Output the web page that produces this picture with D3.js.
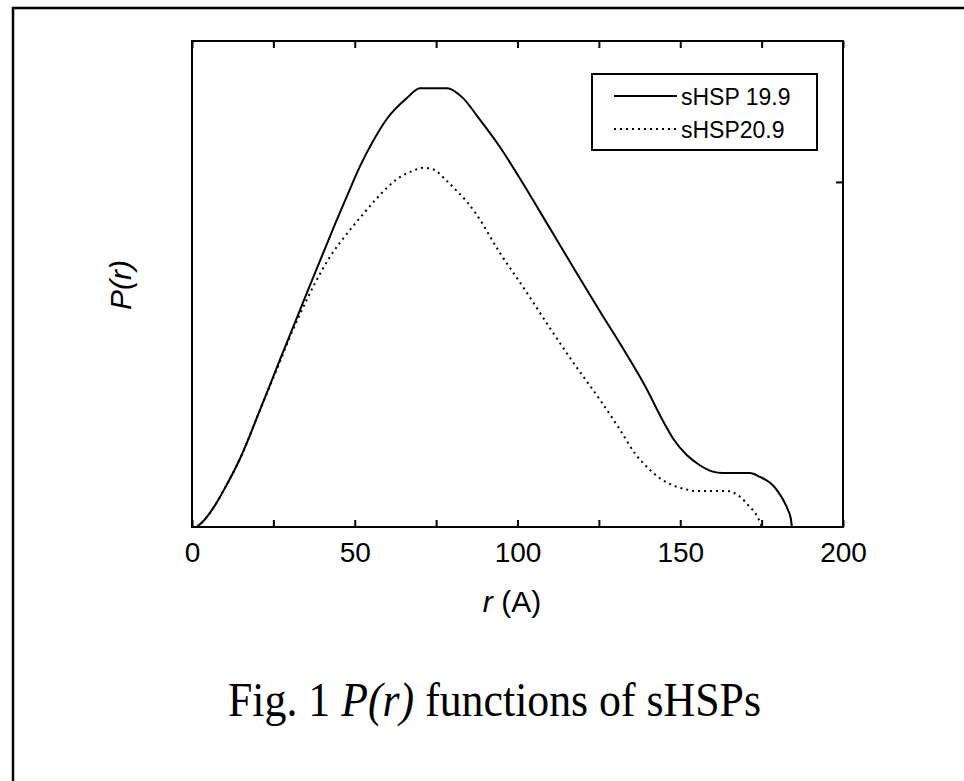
<!DOCTYPE html>
<html>
<head>
<meta charset="utf-8">
<script src="https://cdn.jsdelivr.net/npm/d3@7"></script>
<style>
  html, body { margin: 0; padding: 0; background: #fff; }
  svg { display: block; }
</style>
</head>
<body>
<div id="chart"></div>
<script>
// r values (A), P(r) in relative units (0 = axis, 1 = top of box)
var rSolid = [1.5, 4.0, 7.1, 10.1, 14.7, 20.9, 27.0, 33.2, 37.8, 41.8, 44.0, 47.8, 51.6, 55.3, 59.9, 66.1, 70.0, 78.3, 83.2, 87.8, 94.6, 102.3, 110.0, 117.7, 125.3, 133.0, 139.2, 144.4, 148.0, 152.0, 156.0, 160.0, 163.0, 171.4, 174.5, 177.6, 179.7, 181.6, 183.1, 184.0, 184.3];
var pSolid = [0, 0.016, 0.045, 0.080, 0.140, 0.241, 0.344, 0.447, 0.523, 0.588, 0.624, 0.684, 0.742, 0.790, 0.840, 0.883, 0.903, 0.903, 0.883, 0.844, 0.782, 0.700, 0.614, 0.528, 0.444, 0.361, 0.290, 0.222, 0.180, 0.148, 0.127, 0.114, 0.111, 0.111, 0.103, 0.091, 0.076, 0.056, 0.035, 0.016, 0];

var rDotted = [1.5, 4.0, 7.1, 10.1, 14.7, 20.9, 27.0, 30.0, 33.2, 37.8, 42.4, 47.9, 51.6, 56.2, 60.2, 63.9, 67.9, 71.0, 74.0, 78.3, 82.0, 84.5, 87.3, 94.6, 102.3, 110.0, 117.7, 125.3, 131.5, 136.0, 140.0, 144.0, 148.0, 152.0, 155.0, 164.4, 168.4, 171.4, 173.0, 174.5, 175.1];
var pDotted = [0, 0.016, 0.045, 0.080, 0.140, 0.241, 0.340, 0.390, 0.438, 0.502, 0.556, 0.606, 0.636, 0.672, 0.700, 0.720, 0.733, 0.739, 0.736, 0.712, 0.687, 0.669, 0.644, 0.564, 0.488, 0.409, 0.333, 0.262, 0.200, 0.152, 0.122, 0.099, 0.085, 0.077, 0.074, 0.074, 0.062, 0.041, 0.029, 0.010, 0];

var seriesNames = ['sHSP 19.9', 'sHSP20.9'];
var xTicks = [0, 25, 50, 75, 100, 125, 150, 175, 200];
var xLabels = [0, 50, 100, 150, 200];
var yTicks = [0.71];

var width = 964,
    height = 781,
    box = { left: 192, top: 41, right: 843, bottom: 527 }
;

var svg = d3.select('#chart')
  .append('svg')
    .attr('width', width)
    .attr('height', height)
;

svg.append('rect')
  .attr('width', width)
  .attr('height', height)
  .attr('fill', '#fff');

// outer frame, only left and top edges are in the picture
svg.append('path')
  .attr('d', 'M13,' + height + 'V8H' + width)
  .attr('fill', 'none')
  .attr('stroke', '#000')
  .attr('stroke-width', 2.5);

var x = d3.scaleLinear().domain([0, 200]).range([box.left, box.right]);
var y = d3.scaleLinear().domain([0, 1]).range([box.bottom, box.top]);

function noDomain( g )
{
  g.select('.domain').remove();
  g.selectAll('.tick line').attr('stroke', '#000').attr('stroke-width', 2);
}

// bottom axis with inward ticks
svg.append('g')
  .attr('transform', 'translate(0,' + box.bottom + ')')
  .call(
    d3.axisBottom(x)
      .tickValues(xTicks)
      .tickSizeInner(-7)
      .tickSizeOuter(0)
      .tickPadding(15)
      .tickFormat(function(d)
      {
        return xLabels.indexOf(d) >= 0 ? d : '';
      })
  )
  .call(noDomain)
  .call(function(g)
  {
    g.selectAll('text')
      .attr('fill', '#000')
      .style('font-family', '"Liberation Sans", Arial, sans-serif')
      .style('font-size', '28px');
  });

svg.append('g')
  .attr('transform', 'translate(0,' + box.top + ')')
  .call(d3.axisTop(x).tickValues(xTicks).tickSizeInner(-7).tickSizeOuter(0).tickFormat(''))
  .call(noDomain);

svg.append('g')
  .attr('transform', 'translate(' + box.right + ',0)')
  .call(d3.axisRight(y).tickValues(yTicks).tickSizeInner(-7).tickSizeOuter(0).tickFormat(''))
  .call(noDomain);

// plot box
svg.append('rect')
  .attr('x', box.left)
  .attr('y', box.top)
  .attr('width', box.right - box.left)
  .attr('height', box.bottom - box.top)
  .attr('fill', 'none')
  .attr('stroke', '#000')
  .attr('stroke-width', 2);

// curves
var line = d3.line()
  .x(function(d) { return x(d[0]); })
  .y(function(d) { return y(d[1]); })
  .curve(d3.curveMonotoneX);

svg.append('path')
  .datum(d3.zip(rSolid, pSolid))
  .attr('d', line)
  .attr('fill', 'none')
  .attr('stroke', '#000')
  .attr('stroke-width', 2);

svg.append('path')
  .datum(d3.zip(rDotted, pDotted))
  .attr('d', line)
  .attr('fill', 'none')
  .attr('stroke', '#000')
  .attr('stroke-width', 2)
  .attr('stroke-dasharray', '2,4');

// legend
var legend = svg.append('g');

legend.append('rect')
  .attr('x', 592)
  .attr('y', 74)
  .attr('width', 225)
  .attr('height', 76)
  .attr('fill', '#fff')
  .attr('stroke', '#000')
  .attr('stroke-width', 2);

seriesNames.forEach(function(name, i)
{
  var ly = 96 + i * 33;

  legend.append('line')
    .attr('x1', 614)
    .attr('x2', 677)
    .attr('y1', ly)
    .attr('y2', ly)
    .attr('stroke', '#000')
    .attr('stroke-width', 2)
    .attr('stroke-dasharray', i === 0 ? null : '2,4');

  legend.append('text')
    .attr('x', 681)
    .attr('y', ly + 9)
    .style('font-family', '"Liberation Sans", Arial, sans-serif')
    .style('font-size', '23px')
    .text(name);
});

// axis titles
svg.append('text')
  .attr('x', 512)
  .attr('y', 612)
  .attr('text-anchor', 'middle')
  .style('font-family', '"Liberation Sans", Arial, sans-serif')
  .style('font-size', '30px')
  .call(function(t)
  {
    t.append('tspan').style('font-style', 'italic').text('r');
    t.append('tspan').text(' (A)');
  });

svg.append('text')
  .attr('transform', 'translate(131,285) rotate(-90)')
  .attr('text-anchor', 'middle')
  .style('font-family', '"Liberation Sans", Arial, sans-serif')
  .style('font-size', '30px')
  .style('font-style', 'italic')
  .text('P(r)');

// caption, one text element scaled to the width it has in the picture
svg.append('text')
  .attr('transform', 'translate(228,716) scale(0.913,1)')
  .style('font-family', '"Liberation Serif", "Times New Roman", serif')
  .style('font-size', '48px')
  .call(function(t)
  {
    t.append('tspan').text('Fig. 1 ');
    t.append('tspan').style('font-style', 'italic').text('P(r)');
    t.append('tspan').text(' functions of sHSPs');
  });
</script>
</body>
</html>
